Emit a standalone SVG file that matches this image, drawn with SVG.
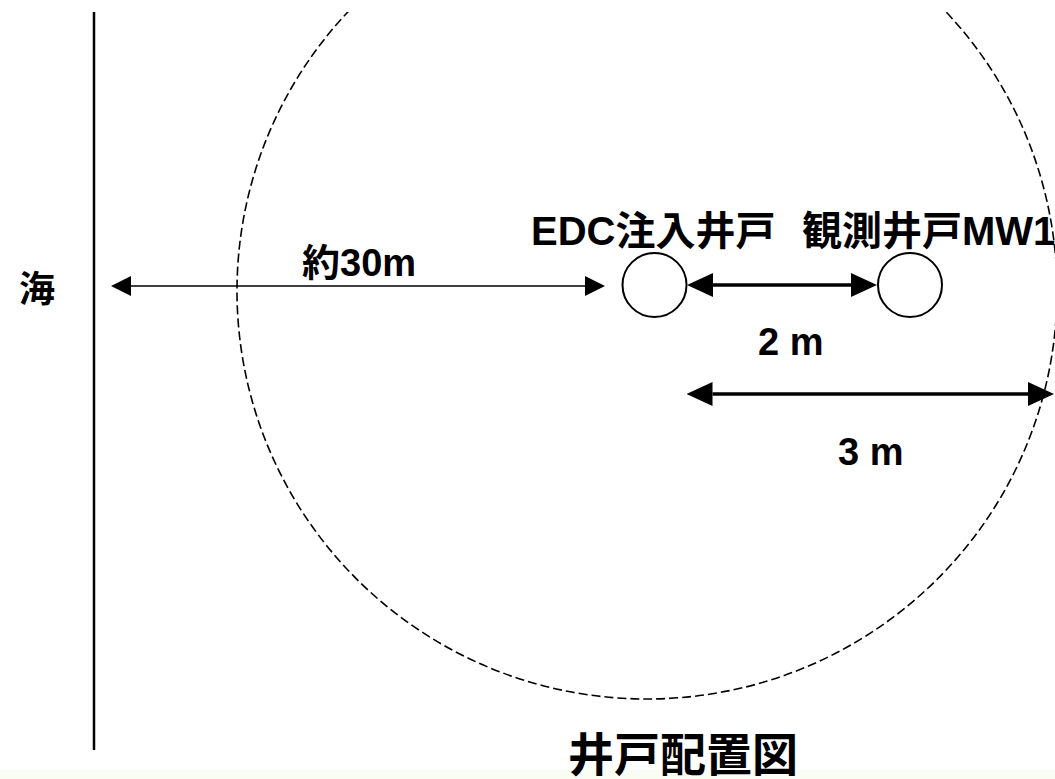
<svg xmlns="http://www.w3.org/2000/svg" width="1055" height="779" viewBox="0 0 1055 779">
<style>
.t{font-family:"Liberation Sans","Noto Sans CJK JP",sans-serif;font-weight:bold;fill:#000}
.zone{fill:none;stroke:#000;stroke-width:1.6;stroke-dasharray:9 4}
.well{fill:#fff;stroke:#000;stroke-width:2}
.thin{stroke:#000;stroke-width:1.5}
.thick{stroke:#000;stroke-width:3.5}
</style>
<defs>
<marker id="hThin" viewBox="0 -10 20 20" refX="0" refY="0" markerWidth="20" markerHeight="20" markerUnits="userSpaceOnUse" orient="auto-start-reverse">
<path d="M0,-10 L20,0 L0,10 z" fill="#000"/>
</marker>
<marker id="hThick" viewBox="0 -12 26 24" refX="0" refY="0" markerWidth="26" markerHeight="24" markerUnits="userSpaceOnUse" orient="auto-start-reverse">
<path d="M0,-12 L26,0 L0,12 z" fill="#000"/>
</marker>
<clipPath id="frame">
<rect x="0" y="12" width="1055" height="767"/>
</clipPath>
</defs>
<rect x="0" y="0" width="1055" height="779" fill="#fff"/>
<rect x="0" y="770" width="1055" height="9" fill="#f9fdf3"/>
<g id="zone" clip-path="url(#frame)">
<ellipse class="zone" cx="647" cy="291" rx="410" ry="408"/>
</g>
<g id="coast">
<line x1="94" y1="12" x2="94" y2="750" stroke="#000" stroke-width="2.5"/>
<text class="t" x="19" y="302" font-size="36">海</text>
</g>
<g id="connectors">
<line class="thin" x1="131" y1="286" x2="585" y2="286" marker-start="url(#hThin)" marker-end="url(#hThin)"/>
<line class="thick" x1="713" y1="285" x2="851" y2="285" marker-start="url(#hThick)" marker-end="url(#hThick)"/>
<line class="thick" x1="712.5" y1="394" x2="1028" y2="394" marker-start="url(#hThick)" marker-end="url(#hThick)"/>
</g>
<g id="well-edc">
<circle class="well" cx="654.5" cy="285" r="32"/>
<text class="t" x="531" y="245" font-size="40">EDC注入井戸</text>
</g>
<g id="well-mw1">
<circle class="well" cx="910" cy="285" r="32"/>
<text class="t" x="802" y="245" font-size="40">観測井戸MW1</text>
</g>
<g id="labels">
<text class="t" x="302" y="276" font-size="38">約30m</text>
<text class="t" x="758" y="355" font-size="38">2 m</text>
<text class="t" x="838" y="465" font-size="38">3 m</text>
<text class="t" x="568" y="771" font-size="46">井戸配置図</text>
</g>
</svg>
